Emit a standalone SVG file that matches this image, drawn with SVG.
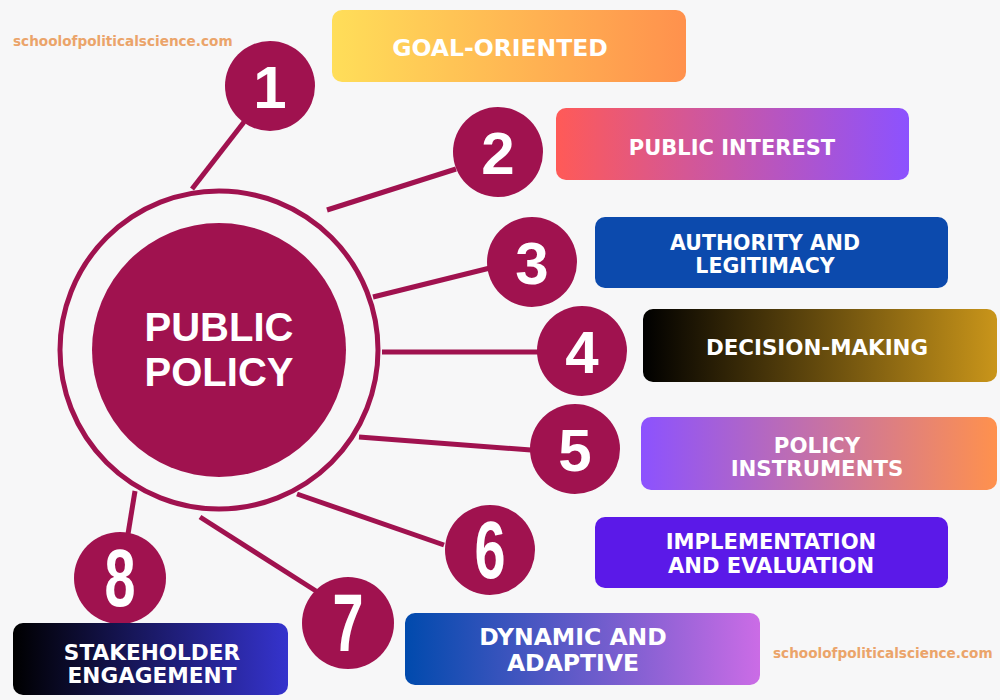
<svg xmlns="http://www.w3.org/2000/svg" width="1000" height="700" viewBox="0 0 1000 700">
<defs>
<linearGradient id="g1" x1="0" x2="1" y1="0" y2="0"><stop offset="0" stop-color="#ffde59"/><stop offset="1" stop-color="#ff914d"/></linearGradient>
<linearGradient id="g2" x1="0" x2="1" y1="0" y2="0"><stop offset="0" stop-color="#ff5a57"/><stop offset="1" stop-color="#8c52ff"/></linearGradient>
<linearGradient id="g4" x1="0" x2="1" y1="0" y2="0"><stop offset="0" stop-color="#000000"/><stop offset="1" stop-color="#c9951a"/></linearGradient>
<linearGradient id="g5" x1="0" x2="1" y1="0" y2="0"><stop offset="0" stop-color="#8c52ff"/><stop offset="1" stop-color="#ff914d"/></linearGradient>
<linearGradient id="g7" x1="0" x2="1" y1="0" y2="0"><stop offset="0" stop-color="#004aad"/><stop offset="1" stop-color="#cb6ce6"/></linearGradient>
<linearGradient id="g8" x1="0" x2="1" y1="0" y2="0"><stop offset="0" stop-color="#000000"/><stop offset="1" stop-color="#3533cd"/></linearGradient>
</defs>
<style>
.bg{fill:#f7f7f8}
.conn line{stroke:#a0124f;stroke-width:5;stroke-linecap:butt}
.num circle{fill:#a0124f}
.num text{fill:#ffffff;font-family:"Liberation Sans",Arial,sans-serif;font-weight:bold;text-anchor:middle}
.box text{fill:#ffffff;font-family:"DejaVu Sans","Liberation Sans",sans-serif;font-weight:bold;text-anchor:middle}
.wm{fill:#eba46a;font-family:"DejaVu Sans","Liberation Sans",sans-serif;font-weight:bold;font-size:13.6px}
.ctr{fill:#ffffff;font-family:"Liberation Sans",Arial,sans-serif;font-weight:bold;font-size:40px;text-anchor:middle}
</style>
<rect class="bg" x="0" y="0" width="1000" height="700"/>
<text class="wm" x="13" y="46">schoolofpoliticalscience.com</text>
<text class="wm" x="773" y="658">schoolofpoliticalscience.com</text>

<g id="connectors" class="conn">
<line x1="192" y1="189" x2="244" y2="122"/>
<line x1="327" y1="210" x2="456" y2="169"/>
<line x1="373" y1="297" x2="490" y2="268"/>
<line x1="382" y1="352" x2="539" y2="352"/>
<line x1="359" y1="437" x2="531" y2="450"/>
<line x1="297" y1="494" x2="444" y2="545"/>
<line x1="200" y1="517" x2="316" y2="591"/>
<line x1="135" y1="491" x2="128" y2="534"/>
</g>

<g id="center">
<circle cx="219" cy="350" r="159" fill="none" stroke="#a0124f" stroke-width="5"/>
<circle cx="219" cy="350" r="127" fill="#a0124f"/>
<text class="ctr" x="219" y="341">PUBLIC</text>
<text class="ctr" x="219" y="386">POLICY</text>
</g>

<g id="n1" class="num"><circle cx="270" cy="86" r="45"/><text x="270" y="108" font-size="60">1</text></g>
<g id="n2" class="num"><circle cx="498" cy="152" r="45"/><text x="498" y="174" font-size="60">2</text></g>
<g id="n3" class="num"><circle cx="532" cy="262" r="45"/><text x="532" y="284" font-size="60">3</text></g>
<g id="n4" class="num"><circle cx="582" cy="351" r="45"/><text x="582" y="373" font-size="60">4</text></g>
<g id="n5" class="num"><circle cx="575" cy="449" r="45"/><text x="575" y="471" font-size="60">5</text></g>
<g id="n6" class="num"><circle cx="490" cy="550" r="45"/><text font-size="62" transform="translate(490,578) scale(0.9,1.3)">6</text></g>
<g id="n7" class="num"><circle cx="348" cy="623" r="46"/><text font-size="62" transform="translate(348,651) scale(0.9,1.3)">7</text></g>
<g id="n8" class="num"><circle cx="120" cy="578" r="46"/><text font-size="62" transform="translate(120,606) scale(0.9,1.3)">8</text></g>

<g id="b1" class="box"><rect x="332" y="10" width="354" height="72" rx="10" fill="url(#g1)"/><text x="500" y="56" font-size="23.5">GOAL-ORIENTED</text></g>
<g id="b2" class="box"><rect x="556" y="108" width="353" height="72" rx="10" fill="url(#g2)"/><text x="732" y="155" font-size="21">PUBLIC INTEREST</text></g>
<g id="b3" class="box"><rect x="595" y="217" width="353" height="71" rx="10" fill="#0c4aad"/><text x="765" y="250" font-size="20.5">AUTHORITY AND</text><text x="765" y="273" font-size="20.5">LEGITIMACY</text></g>
<g id="b4" class="box"><rect x="643" y="309" width="354" height="73" rx="10" fill="url(#g4)"/><text x="817" y="355" font-size="21.4">DECISION-MAKING</text></g>
<g id="b5" class="box"><rect x="641" y="417" width="356" height="73" rx="10" fill="url(#g5)"/><text x="817" y="453" font-size="21.3">POLICY</text><text x="817" y="476" font-size="21.3">INSTRUMENTS</text></g>
<g id="b6" class="box"><rect x="595" y="517" width="353" height="71" rx="10" fill="#5b19e8"/><text x="771" y="549" font-size="21.1">IMPLEMENTATION</text><text x="771" y="573" font-size="21.1">AND EVALUATION</text></g>
<g id="b7" class="box"><rect x="405" y="613" width="355" height="72" rx="10" fill="url(#g7)"/><text x="573" y="645" font-size="23.5">DYNAMIC AND</text><text x="573" y="671" font-size="23.5">ADAPTIVE</text></g>
<g id="b8" class="box"><rect x="13" y="623" width="275" height="72" rx="10" fill="url(#g8)"/><text x="152" y="660" font-size="21.6">STAKEHOLDER</text><text x="152" y="683" font-size="21.6">ENGAGEMENT</text></g>
</svg>
